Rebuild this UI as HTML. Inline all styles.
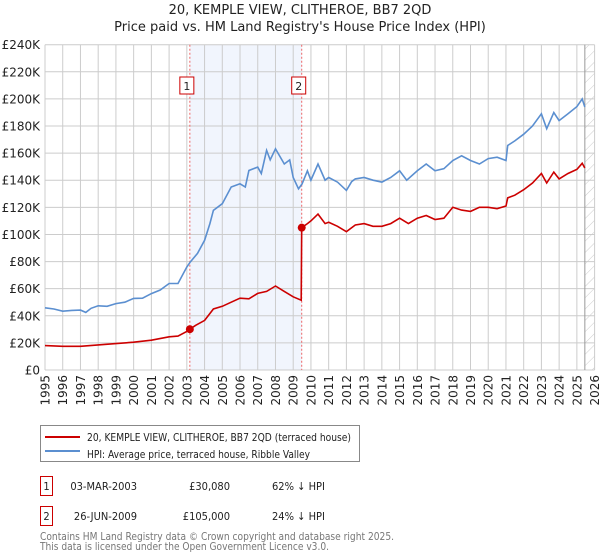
<!DOCTYPE html>
<html><head><meta charset="utf-8">
<style>
body{margin:0;background:#fff;font-family:"DejaVu Sans","Liberation Sans",sans-serif;}
#wrap{position:relative;width:600px;height:560px;overflow:hidden;}
svg text{font-family:"DejaVu Sans","Liberation Sans",sans-serif;}
svg text.cond{font-family:"DejaVu Sans Condensed","DejaVu Sans","Liberation Sans",sans-serif;font-stretch:condensed;}
</style></head><body>
<div id="wrap">
<svg id="chart" width="600" height="560"></svg>
</div>
<script>
const hpiDates=[1995,1995.5,1996,1996.5,1997,1997.3,1997.6,1998,1998.5,1999,1999.5,2000,2000.5,2001,2001.5,2002,2002.5,2003,2003.2,2003.6,2004,2004.3,2004.5,2005,2005.5,2006,2006.3,2006.5,2007,2007.2,2007.5,2007.7,2008,2008.5,2008.8,2009,2009.3,2009.5,2009.8,2010,2010.4,2010.8,2011,2011.5,2012,2012.3,2012.5,2013,2013.5,2014,2014.5,2015,2015.4,2016,2016.5,2017,2017.5,2018,2018.5,2019,2019.5,2020,2020.5,2021,2021.1,2021.5,2022,2022.5,2023,2023.3,2023.7,2024,2024.5,2025,2025.3,2025.45];
const hpiValues=[45900,45000,43400,44000,44200,42500,45500,47400,47000,49000,50000,52800,53000,56400,59000,63800,63800,76000,79800,86000,95700,108000,117800,122700,135000,137400,135000,147200,149700,145000,162000,155000,163200,152000,155000,142000,133700,137400,147000,140000,152000,140000,142000,138600,132500,139000,141000,142000,140000,138600,142000,147000,140000,147000,152000,147000,148500,154600,158000,154600,152000,156000,157000,154600,165600,169000,174000,180000,189000,178000,190000,184000,189000,194300,200000,194000];
const ppDates=[1995,1996,1997,1998,1999,2000,2001,2002,2002.5,2003,2003.17,2003.5,2004,2004.5,2005,2005.5,2006,2006.5,2007,2007.5,2008,2008.5,2009,2009.45,2009.48,2009.8,2010,2010.4,2010.8,2011,2011.5,2012,2012.5,2013,2013.5,2014,2014.5,2015,2015.5,2016,2016.5,2017,2017.5,2018,2018.5,2019,2019.5,2020,2020.5,2021,2021.1,2021.5,2022,2022.5,2023,2023.3,2023.7,2024,2024.5,2025,2025.3,2025.45];
const ppValues=[18000,17500,17500,18500,19500,20500,22000,24500,25000,28500,30080,33000,36600,45000,47000,50000,53000,52500,56500,58000,62000,58000,54000,51500,105000,108000,110000,115000,108000,109000,106000,102000,107000,108000,106000,106000,108000,112000,108000,112000,114000,111000,112000,120000,118000,117000,120000,120000,119000,121000,127000,129000,133000,138000,145000,138000,146000,141000,145000,148000,152500,149000];
const yTicks=[0,20000,40000,60000,80000,100000,120000,140000,160000,180000,200000,220000,240000];
const yTickLabels=["£0","£20K","£40K","£60K","£80K","£100K","£120K","£140K","£160K","£180K","£200K","£220K","£240K"];
const xYears=[1995,1996,1997,1998,1999,2000,2001,2002,2003,2004,2005,2006,2007,2008,2009,2010,2011,2012,2013,2014,2015,2016,2017,2018,2019,2020,2021,2022,2023,2024,2025,2026];
const saleDates=[2003.17,2009.48];
const saleValues=[30080,105000];
const saleLabels=["1","2"];
const hatchStart=2025.45;

const NS="http://www.w3.org/2000/svg";
const svg=document.getElementById('chart');
const L=45,R=594.6,T=44.7,B=370;
function xs(d){return L+(d-1995)/(2026-1995)*(R-L);}
function ys(v){return B-v/240000*(B-T);}
function mk(tag,attrs,parent){const e=document.createElementNS(NS,tag);for(const k in attrs)e.setAttribute(k,attrs[k]);(parent||svg).appendChild(e);return e;}

const defs=mk('defs',{});
const pat=mk('pattern',{id:'hatch',width:8,height:8,patternUnits:'userSpaceOnUse',patternTransform:'rotate(45)'},defs);
mk('line',{x1:0,y1:0,x2:0,y2:8,stroke:'#ccc','stroke-width':1},pat);

let t=mk('text',{x:300,y:14,'text-anchor':'middle','font-size':13,fill:'#222'});t.textContent='20, KEMPLE VIEW, CLITHEROE, BB7 2QD';

t=mk('text',{x:300,y:31,'text-anchor':'middle','font-size':13,fill:'#222'});t.textContent="Price paid vs. HM Land Registry's House Price Index (HPI)";


let r=mk('rect',{x:xs(saleDates[0]),y:T,width:xs(saleDates[1])-xs(saleDates[0]),height:B-T,fill:'#eef3fc',opacity:0.8});

r=mk('rect',{x:xs(hatchStart),y:T,width:R-xs(hatchStart),height:B-T,fill:'url(#hatch)'});


const grid=mk('g',{});
yTicks.forEach((v,i)=>{
  mk('line',{x1:L,x2:R,y1:ys(v),y2:ys(v),stroke:'#ccc','stroke-width':1},grid);
  const tx=mk('text',{x:40,y:ys(v)+4.5,'text-anchor':'end','font-size':12,fill:'#222'});
  tx.textContent=yTickLabels[i];
  
  
});
xYears.forEach(y=>{
  mk('line',{x1:xs(y),x2:xs(y),y1:T,y2:B,stroke:'#ccc','stroke-width':1},grid);
  const tx=mk('text',{x:0,y:0,'text-anchor':'end','font-size':12,fill:'#222',transform:`translate(${xs(y)+4.5},${B+5}) rotate(-90)`});
  tx.textContent=y;
  
  
});
mk('line',{x1:xs(hatchStart),x2:xs(hatchStart),y1:T,y2:B,stroke:'#999','stroke-width':1});

saleDates.forEach((d,i)=>{
  const ln=mk('line',{x1:xs(d),x2:xs(d),y1:T,y2:B,stroke:'#e66','stroke-width':1,'stroke-dasharray':'2,2'});
  
  
  const bx=mk('rect',{x:xs(d)-10,y:77,width:14,height:17,fill:'#fff',stroke:'#c00','stroke-width':1});
  
  
  const tx=mk('text',{x:xs(d)-3,y:90,'text-anchor':'middle','font-size':11,fill:'#222'});
  tx.textContent=saleLabels[i];
  
  
});

function path(ds,vs){return ds.map((d,i)=>(i?'L':'M')+xs(d).toFixed(1)+','+ys(vs[i]).toFixed(1)).join('');}
const hp=mk('path',{d:path(hpiDates,hpiValues),fill:'none',stroke:'#5b8fd0','stroke-width':1.6});

const pp=mk('path',{d:path(ppDates,ppValues),fill:'none',stroke:'#cc0000','stroke-width':1.6});

saleDates.forEach((d,i)=>{
  const c=mk('circle',{cx:xs(d),cy:ys(saleValues[i]),r:4,fill:'#cc0000'});
  
  
});

const lg=mk('g',{});
mk('rect',{x:40.5,y:425.5,width:319,height:36,fill:'#fff',stroke:'#888','stroke-width':1},lg);
mk('line',{x1:45,x2:80,y1:437,y2:437,stroke:'#cc0000','stroke-width':2},lg);
mk('line',{x1:45,x2:80,y1:451,y2:451,stroke:'#5b8fd0','stroke-width':2},lg);
t=mk('text',{class:'cond',x:87,y:441,'font-size':11,fill:'#222',textLength:264,lengthAdjust:'spacingAndGlyphs'},lg);t.textContent='20, KEMPLE VIEW, CLITHEROE, BB7 2QD (terraced house)';

t=mk('text',{class:'cond',x:87,y:458,'font-size':11,fill:'#222',textLength:223,lengthAdjust:'spacingAndGlyphs'},lg);t.textContent='HPI: Average price, terraced house, Ribble Valley';


const rows=[["1","03-MAR-2003","£30,080","62% ↓ HPI"],["2","26-JUN-2009","£105,000","24% ↓ HPI"]];
rows.forEach((rw,i)=>{
  const y0=476+i*30;
  const b=mk('rect',{x:40.5,y:y0+0.5,width:12,height:19,fill:'#fff',stroke:'#c00','stroke-width':1});
  
  const cols=[[46.5,'middle'],[137,'end'],[230,'end'],[272,'start']];
  rw.forEach((s,j)=>{
    const tx=mk('text',{class:'cond',x:cols[j][0],y:y0+14,'text-anchor':cols[j][1],'font-size':11,fill:'#222'});
    tx.textContent=s;
    
    
  });
});
t=mk('text',{class:'cond',x:40,y:540,'font-size':11,fill:'#777',textLength:354,lengthAdjust:'spacingAndGlyphs'});t.textContent='Contains HM Land Registry data © Crown copyright and database right 2025.';

t=mk('text',{class:'cond',x:40,y:550,'font-size':11,fill:'#777',textLength:289,lengthAdjust:'spacingAndGlyphs'});t.textContent='This data is licensed under the Open Government Licence v3.0.';

</script>
</body></html>
